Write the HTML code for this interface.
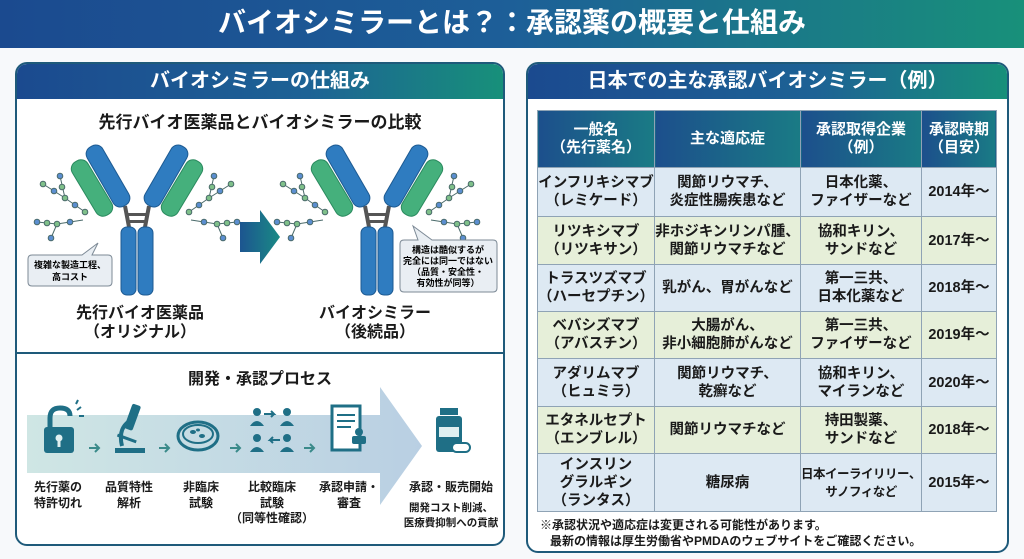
<!DOCTYPE html>
<html><head><meta charset="utf-8"><style>
*{margin:0;padding:0;box-sizing:border-box}
body{width:1024px;height:559px;background:#f7f9fb;font-family:"Liberation Sans","Noto Sans CJK JP",sans-serif;position:relative;overflow:hidden;color:#1a1a1a}
.abs{position:absolute}
.title{left:0;top:0;width:1024px;height:48px;background:linear-gradient(90deg,#1b4a8f,#1d5f98 50%,#18907a);color:#fff;font-size:28px;font-weight:bold;text-align:center;line-height:46px}
.panel{border:2px solid #1e5a7a;border-radius:12px;background:#fff;overflow:hidden}
.ph{height:35px;background:linear-gradient(90deg,#1b4a8f,#1d6295 60%,#17907a);color:#fff;font-size:20px;font-weight:bold;text-align:center;line-height:34px}
table{border-collapse:collapse;position:absolute;left:537px;top:110px;width:460px}
td,th{border:1px solid #8fa3b5;text-align:center;font-weight:bold;font-size:14.5px;line-height:18px}
th{color:#fff;background:linear-gradient(90deg,#1c4f8c,#1a7b85);font-size:15px}
tr.b td{background:#dde9f3}
tr.g td{background:#e6efd9}
</style></head><body>
<div class="abs title">バイオシミラーとは？：承認薬の概要と仕組み</div>

<div class="abs panel" style="left:15px;top:62px;width:490px;height:484px">
<div class="ph">バイオシミラーの仕組み</div>
<div class="abs" style="left:0;top:288px;width:486px;height:2px;background:#1e5a7a"></div>
</div>

<svg class="abs" style="left:0;top:0" width="520" height="559">
<defs>
<linearGradient id="ar" x1="0" x2="1"><stop offset="0" stop-color="#1c5590"/><stop offset="1" stop-color="#1a8a85"/></linearGradient>
<linearGradient id="band" x1="0" x2="1"><stop offset="0" stop-color="#cfe6e4"/><stop offset="1" stop-color="#b9cfe3"/></linearGradient>
<g id="arm">
 <g transform="translate(-45,-44) rotate(-31)"><rect x="-9" y="-31" width="18" height="62" rx="8" fill="#45b07c" stroke="#2a8a5e"/></g>
 <g transform="translate(-29,-56) rotate(-30)"><rect x="-9" y="-34" width="18" height="68" rx="8" fill="#2f7cc0" stroke="#1d5a92"/></g>
</g>
<g id="ab">
 <path d="M-8 -5 L-12 -26 M8 -5 L12 -26" stroke="#555" stroke-width="4" fill="none"/>
 <rect x="-10" y="-19" width="20" height="3" fill="#555"/><rect x="-10" y="-12" width="20" height="3" fill="#555"/>
 <rect x="-16" y="-5" width="15" height="68" rx="6" fill="#2f7cc0" stroke="#1d5a92"/>
 <rect x="1" y="-5" width="15" height="68" rx="6" fill="#2f7cc0" stroke="#1d5a92"/>
 <use href="#arm"/>
 <use href="#arm" transform="scale(-1,1)"/>
 <g stroke="#4a6a6a" stroke-width="1" fill="#7fc08a">
  <path d="M-52 -20 L-72 -34 L-94 -48 M-72 -34 L-77 -56 M-54 -12 L-80 -8 L-100 -10 M-80 -8 L-86 6" fill="none"/>
  <circle cx="-52" cy="-20" r="2.8"/><circle cx="-62" cy="-27" r="2.8" fill="#5b8ed0"/><circle cx="-72" cy="-34" r="2.8"/><circle cx="-83" cy="-41" r="2.8" fill="#5b8ed0"/><circle cx="-94" cy="-48" r="2.8"/><circle cx="-75" cy="-45" r="2.8"/><circle cx="-77" cy="-56" r="2.8" fill="#5b8ed0"/><circle cx="-80" cy="-8" r="2.8"/><circle cx="-100" cy="-10" r="2.8" fill="#5b8ed0"/><circle cx="-86" cy="6" r="2.8" fill="#5b8ed0"/><circle cx="-67" cy="-10" r="2.8" fill="#5b8ed0"/><circle cx="-90" cy="-9" r="2.8"/>
  <path d="M52 -20 L72 -34 L94 -48 M72 -34 L77 -56 M54 -12 L80 -8 L100 -10 M80 -8 L86 6" fill="none"/>
  <circle cx="52" cy="-20" r="2.8"/><circle cx="62" cy="-27" r="2.8" fill="#5b8ed0"/><circle cx="72" cy="-34" r="2.8"/><circle cx="83" cy="-41" r="2.8" fill="#5b8ed0"/><circle cx="94" cy="-48" r="2.8"/><circle cx="75" cy="-45" r="2.8"/><circle cx="77" cy="-56" r="2.8" fill="#5b8ed0"/><circle cx="80" cy="-8" r="2.8"/><circle cx="100" cy="-10" r="2.8" fill="#5b8ed0"/><circle cx="86" cy="6" r="2.8" fill="#5b8ed0"/><circle cx="67" cy="-10" r="2.8" fill="#5b8ed0"/><circle cx="90" cy="-9" r="2.8"/>
 </g>
</g>
</defs>
<text x="260" y="128" text-anchor="middle" font-size="17" font-weight="bold" fill="#1a1a1a">先行バイオ医薬品とバイオシミラーの比較</text>
<use href="#ab" x="137" y="232"/>
<use href="#ab" x="377" y="232"/>
<path d="M240 222 H260 V210 L280 237 L260 264 V252 H240 Z" fill="url(#ar)"/>
<path d="M32 255 H82 L98 243 L92 255 H108 Q112 255 112 259 V282 Q112 286 108 286 H32 Q28 286 28 282 V259 Q28 255 32 255Z" fill="#e9eef3" stroke="#7d8a96"/>
<text x="70" y="268" text-anchor="middle" font-size="9" font-weight="bold">複雑な製造工程、</text>
<text x="70" y="280" text-anchor="middle" font-size="9" font-weight="bold">高コスト</text>
<path d="M404 240 H418 L413 226 L432 240 H493 Q497 240 497 244 V288 Q497 292 493 292 H404 Q400 292 400 288 V244 Q400 240 404 240Z" fill="#e9eef3" stroke="#7d8a96"/>
<text x="448" y="253" text-anchor="middle" font-size="9" font-weight="bold">構造は酷似するが</text>
<text x="448" y="264" text-anchor="middle" font-size="9" font-weight="bold">完全には同一ではない</text>
<text x="448" y="275" text-anchor="middle" font-size="9" font-weight="bold">（品質・安全性・</text>
<text x="448" y="286" text-anchor="middle" font-size="9" font-weight="bold">有効性が同等）</text>
<g font-size="16" font-weight="bold" text-anchor="middle" fill="#1a1a1a">
<text x="140" y="318">先行バイオ医薬品</text><text x="140" y="337">（オリジナル）</text>
<text x="375" y="318">バイオシミラー</text><text x="375" y="337">（後続品）</text>
<text x="260" y="384">開発・承認プロセス</text>
</g>
<path d="M27 415 H380 V387 L422 446 L380 505 V473 H27 Z" fill="url(#band)"/>
<g fill="#1f6f86">
 <rect x="44" y="427" width="30" height="26" rx="3"/>
 <path d="M50 427 V418 Q50 408 60 408 Q70 408 70 416" stroke="#1f6f86" stroke-width="5" fill="none"/>
 <circle cx="59" cy="438" r="3.5" fill="#dfeff0"/><rect x="57.5" y="439" width="3" height="8" fill="#dfeff0"/>
 <path d="M77 410 l4 -3 M79 416 l5 0 M76 404 l2 -4" stroke="#1f6f86" stroke-width="2"/>
 <rect x="115" y="448" width="30" height="5"/><path d="M122 446 Q118 430 128 422" stroke="#1f6f86" stroke-width="4" fill="none"/>
 <rect x="128" y="404" width="9" height="26" rx="2" transform="rotate(20 132 417)"/><rect x="117" y="437" width="20" height="3" transform="rotate(20 127 438)"/>
 <ellipse cx="198" cy="436" rx="20" ry="14" fill="none" stroke="#1f6f86" stroke-width="3"/><ellipse cx="198" cy="434" rx="15" ry="9" fill="none" stroke="#1f6f86" stroke-width="2"/>
 <ellipse cx="193" cy="432" rx="3" ry="2"/><ellipse cx="202" cy="436" rx="3" ry="2"/><ellipse cx="198" cy="430" rx="2" ry="1.5"/>
 <circle cx="257" cy="412" r="4"/><path d="M250 426 q7 -10 14 0z"/><circle cx="287" cy="412" r="4"/><path d="M280 426 q7 -10 14 0z"/>
 <circle cx="257" cy="438" r="4"/><path d="M250 452 q7 -10 14 0z"/><circle cx="287" cy="438" r="4"/><path d="M280 452 q7 -10 14 0z"/>
 <path d="M264 414 h10 l-3 -3 m3 3 l-3 3 M280 440 h-10 l3 -3 m-3 3 l3 3" stroke="#1f6f86" stroke-width="2" fill="none"/>
 <rect x="332" y="406" width="28" height="44" fill="#fff" stroke="#1f6f86" stroke-width="3"/>
 <path d="M337 415 h18 M337 421 h18 M337 427 h14" stroke="#1f6f86" stroke-width="2"/>
 <rect x="352" y="436" width="14" height="8" rx="2"/><circle cx="359" cy="432" r="4"/>
 <rect x="436" y="416" width="26" height="36" rx="3"/><rect x="440" y="408" width="18" height="7"/><rect x="439" y="427" width="20" height="10" fill="#dfeff0"/>
 <rect x="452" y="443" width="18" height="9" rx="4.5" fill="#fff" stroke="#1f6f86" stroke-width="2"/>
</g>
<g stroke="#3a8a8a" stroke-width="2" fill="none">
 <path d="M89 448 h10 m-4 -4 l4 4 l-4 4"/><path d="M159 448 h10 m-4 -4 l4 4 l-4 4"/><path d="M230 448 h10 m-4 -4 l4 4 l-4 4"/><path d="M304 448 h10 m-4 -4 l4 4 l-4 4"/>
</g>
<g font-size="12" font-weight="bold" text-anchor="middle" fill="#1a1a1a">
 <text x="58" y="491">先行薬の</text><text x="58" y="507">特許切れ</text>
 <text x="129" y="491">品質特性</text><text x="129" y="507">解析</text>
 <text x="201" y="491">非臨床</text><text x="201" y="507">試験</text>
 <text x="272" y="491">比較臨床</text><text x="272" y="507">試験</text><text x="272" y="522">（同等性確認）</text>
 <text x="349" y="491">承認申請・</text><text x="349" y="507">審査</text>
 <text x="451" y="491">承認・販売開始</text>
</g>
<g font-size="10.5" font-weight="bold" text-anchor="middle" fill="#1a1a1a">
 <text x="451" y="511">開発コスト削減、</text><text x="451" y="526">医療費抑制への貢献</text>
</g>
</svg>

<div class="abs panel" style="left:526px;top:62px;width:483px;height:491px">
<div class="ph">日本での主な承認バイオシミラー（例）</div>
</div>
<table>
<tr style="height:57px"><th style="width:117px">一般名<br>（先行薬名）</th><th style="width:146px">主な適応症</th><th style="width:117px">承認取得企業<br>（例）</th><th>承認時期<br>（目安）</th></tr>
<tr class="b" style="height:49px"><td>インフリキシマブ<br>（レミケード）</td><td>関節リウマチ、<br>炎症性腸疾患など</td><td>日本化薬、<br>ファイザーなど</td><td>2014年～</td></tr>
<tr class="g" style="height:48px"><td>リツキシマブ<br>（リツキサン）</td><td>非ホジキンリンパ腫、<br>関節リウマチなど</td><td>協和キリン、<br>サンドなど</td><td>2017年～</td></tr>
<tr class="b" style="height:47px"><td>トラスツズマブ<br>（ハーセプチン）</td><td>乳がん、胃がんなど</td><td>第一三共、<br>日本化薬など</td><td>2018年～</td></tr>
<tr class="g" style="height:47px"><td>ベバシズマブ<br>（アバスチン）</td><td>大腸がん、<br>非小細胞肺がんなど</td><td>第一三共、<br>ファイザーなど</td><td>2019年～</td></tr>
<tr class="b" style="height:48px"><td>アダリムマブ<br>（ヒュミラ）</td><td>関節リウマチ、<br>乾癬など</td><td>協和キリン、<br>マイランなど</td><td>2020年～</td></tr>
<tr class="g" style="height:47px"><td>エタネルセプト<br>（エンブレル）</td><td>関節リウマチなど</td><td>持田製薬、<br>サンドなど</td><td>2018年～</td></tr>
<tr class="b" style="height:58px"><td>インスリン<br>グラルギン<br>（ランタス）</td><td>糖尿病</td><td style="font-size:12.5px;white-space:nowrap;letter-spacing:-0.5px">日本イーライリリー、<br>サノフィなど</td><td>2015年～</td></tr>
</table>
<div class="abs" style="left:540px;top:517px;font-size:12px;font-weight:bold;line-height:16px">※承認状況や適応症は変更される可能性があります。<br>&nbsp;&nbsp;&nbsp;最新の情報は厚生労働省やPMDAのウェブサイトをご確認ください。</div>
</body></html>
